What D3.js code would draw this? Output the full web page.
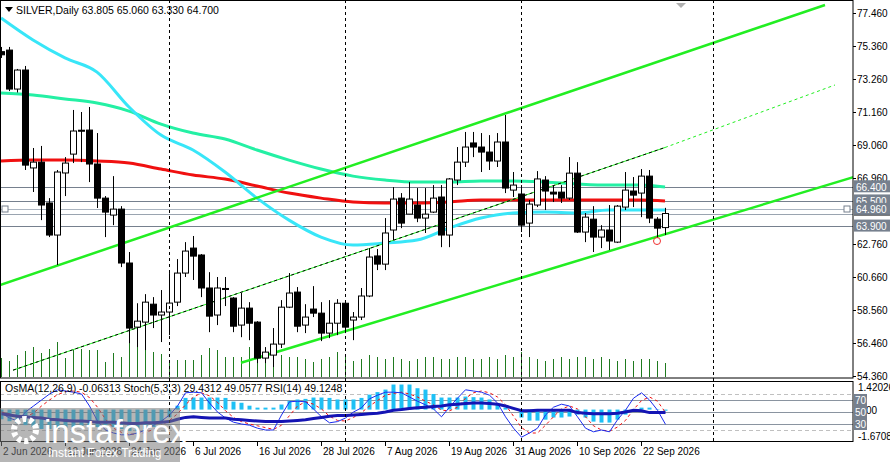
<!DOCTYPE html>
<html><head><meta charset="utf-8">
<script src="https://cdn.jsdelivr.net/npm/d3@7"></script>
<style>body{margin:0;background:#fff}text{font-family:"Liberation Sans",Arial,sans-serif}</style>
</head><body><svg id="c" width="890" height="462"></svg>
<script>
// daily silver candles, 2 Jun .. 23 Sep 2026
let opens  = [75.0,75.1,72.62,73.83,67.6,67.97,65.37,63.33,67.28,68.48,70.0,70.01,67.85,65.68,64.6,64.98,61.55,57.47,57.79,58.93,58.24,58.43,59.06,60.91,62.5,62.06,59.96,58.24,59.93,59.32,57.6,58.68,57.79,55.5,55.69,56.39,58.74,59.7,57.6,58.62,58.36,57.09,57.72,58.99,57.92,58.11,59.45,62.0,61.48,63.65,65.68,64.66,65.24,64.41,64.79,65.75,63.33,66.83,67.97,69.19,68.93,68.61,68.04,69.25,66.19,65.94,64.09,65.24,66.83,66.06,66.06,65.68,67.27,63.52,64.34,63.2,63.65,62.88,65.11,66.13,66.0,67.08,64.34,63.805];
let highs  = [75.3,75.3,73.9,74.09,68.87,69.0,65.68,67.47,68.29,71.29,71.16,71.48,69.82,65.81,67.08,65.17,62.25,58.99,59.57,59.38,59.83,60.91,61.8,62.88,63.27,62.12,60.97,60.66,60.66,59.38,59.64,59.06,57.85,56.2,57.41,59.19,60.91,60.02,58.93,60.08,59.06,59.19,59.25,59.06,58.43,59.96,62.5,62.44,64.41,66.38,66.0,66.7,66.32,66.32,66.51,66.51,66.96,68.93,69.89,69.89,69.82,69.69,69.82,70.97,67.34,66.51,65.56,67.4,67.08,66.51,66.51,68.29,67.97,64.73,65.17,63.96,65.24,65.24,67.34,67.02,67.53,67.47,64.47,65.06];
let lows   = [74.6,72.49,72.4,67.47,66.07,64.28,63.2,61.42,65.81,67.91,67.97,66.7,65.05,63.2,63.96,61.29,56.45,56.2,56.01,57.41,56.52,56.96,58.81,60.66,60.47,59.38,57.15,57.6,58.81,57.15,56.83,56.64,55.18,55.18,54.93,56.14,58.68,57.15,57.09,58.11,56.58,56.77,56.96,57.09,56.64,57.92,59.38,61.1,61.1,63.01,63.77,64.66,64.15,63.46,64.73,62.56,62.56,66.51,67.66,68.29,67.34,67.47,67.66,66.0,65.75,63.52,63.2,65.11,64.92,65.43,65.37,65.56,63.46,62.88,62.25,62.5,62.37,62.82,64.92,65.11,64.47,64.09,63.14,63.33];
let closes = [74.8,72.62,73.83,67.78,67.97,65.24,63.33,67.34,67.91,69.95,69.95,67.85,65.68,64.79,64.98,61.55,57.41,57.85,59.06,58.24,58.43,59.0,60.91,62.31,61.99,59.96,58.17,59.96,59.9,57.53,58.68,57.72,55.5,55.88,56.39,58.74,59.64,57.53,58.11,58.36,57.09,57.72,58.99,57.47,58.11,59.45,61.93,61.48,63.46,65.62,64.09,65.62,64.41,64.66,65.68,63.33,66.9,67.97,68.93,68.93,68.61,68.04,69.25,66.32,66.51,63.96,65.3,66.9,66.13,65.94,65.68,67.27,63.52,64.47,63.2,63.65,62.95,65.17,66.19,65.87,67.08,64.41,63.77,64.7];
let volumes = [19,16,22,26,30,24,28,35,19,27,28,27,27,15,24,20,40,37,32,25,23,15,17,17,17,22,29,27,20,20,20,30,27,22,20,22,20,20,18,15,18,20,25,22,16,18,22,20,18,20,18,16,18,20,20,18,18,20,20,18,18,20,18,22,20,25,20,18,16,18,20,18,20,20,18,20,18,16,18,16,18,18,16,14];

// moving averages, read every 4th bar (last point = bar 83)
let maIdx   = [0,4,8,12,16,20,24,28,32,36,40,44,48,52,56,60,64,68,72,76,80,83];
let maFast  = [77.14,75.74,74.6,73.7,71.48,69.69,68.74,67.34,65.68,64.28,63.2,62.69,62.82,63.01,63.77,64.41,64.73,64.79,64.73,64.92,64.92,64.92];
let maMid   = [72.37,72.24,71.99,71.73,71.22,70.39,69.82,69.44,68.74,68.1,67.53,67.08,66.83,66.7,66.7,66.77,66.77,66.7,66.58,66.51,66.51,66.38];
let maSlow  = [68.04,68.1,68.1,68.04,67.91,67.53,67.15,66.89,66.45,66.0,65.68,65.43,65.37,65.37,65.43,65.56,65.56,65.56,65.56,65.56,65.56,65.49];

// indicator window
let osma   = [-0.5,-0.6,-0.7,-0.8,-0.9,-1.0,-1.0,-1.0,-0.95,-0.9,-0.85,-0.85,-0.9,-0.9,-0.9,-1.0,-1.1,-1.1,-1.0,-0.9,-0.7,-0.4,0.2,0.6,0.62,0.62,0.62,0.62,0.6,0.41,0.35,0.2,0.1,0.1,0.1,0.26,0.45,0.52,0.55,0.62,0.62,0.6,0.52,0.52,0.52,0.6,0.77,0.9,1.03,1.29,1.29,1.29,1.1,1.03,0.8,0.62,0.62,0.62,0.67,0.64,0.62,0.52,0.26,0.1,0.02,-0.41,-0.57,-0.57,-0.52,-0.41,-0.41,-0.36,-0.26,-0.41,-0.62,-0.67,-0.67,-0.52,-0.26,-0.05,0.1,0.1,0.02,-0.06];
let stochK = [48,40,35,50,60,70,80,87,85,83,80,60,35,20,15,12,12,15,20,28,35,45,60,82,83,82,65,50,40,33,30,28,23,20,20,45,67,68,67,55,42,32,34,40,50,57,72,78,83,83,82,75,68,62,55,42,58,73,87,85,83,78,65,42,23,8,15,23,45,58,63,60,42,23,17,20,17,37,53,73,82,70,53,29.43];
let stochD = [50,47,41,42,48,60,70,79,84,85,83,74,58,38,23,16,13,13,16,21,28,36,47,62,75,82,77,66,52,41,34,30,27,24,21,28,44,60,67,63,55,43,36,35,41,49,60,69,78,81,83,80,75,68,62,53,52,58,73,82,85,82,75,62,43,24,15,15,28,42,55,60,55,42,27,20,18,25,36,54,69,75,68,49.06];
let rsi    = [47,45,43,42,41,40,38,37,36,35,35,34,33,33,33,32,31,31,32,32,33,34,38,41,42,41,40,40,40,38,37,36,35,34,34,34,35,36,37,39,41,43,44,44,45,46,47,48,50,53,54,56,57,58,59,60,62,63,64,65,65,64,63,60,56,52,52,53,53,53,53,53,49,48,47,47,47,48,50,53,52,49,49,49.12];

let priceTicks = [77.46,75.36,73.26,71.16,69.06,66.96,62.76,60.66,58.56,56.46,54.36];
let levels = [66.40,65.50,64.96,63.90];
let oscLevels = [80,70,50,30,20];
let dateLabels = [[0,'2 Jun 2026'],[8,'12 Jun 2026'],[16,'24 Jun 2026'],[24,'6 Jul 2026'],[32,'16 Jul 2026'],[40,'28 Jul 2026'],[48,'7 Aug 2026'],[56,'19 Aug 2026'],[64,'31 Aug 2026'],[72,'10 Sep 2026'],[80,'22 Sep 2026']];
let separators = [21,43,65,89];
// channel lines [bar, price] pairs
let upperLine = [[-0.125,60.15],[103,77.97]];
let lowerLine = [[30,55.2],[111.1,67.72]];
let midLine   = [[1.5,54.73],[83,68.9]];
let midLineExt= [[83,68.9],[104.25,72.88]];

let svg = d3.select('#c');
let W = 853;
let x = d3.scaleLinear().domain([0,104]).range([1,833]);
let y = d3.scaleLinear().domain([54.36,77.46]).range([376,13]);
let yo = d3.scaleLinear().domain([0,100]).range([442,382]);
let yh = d3.scaleLinear().domain([-1.6708,1.42026]).range([442,382]);
let bars = d3.range(closes.length);

svg.append('clipPath').attr('id','cm').append('rect').attr('x',0).attr('y',0).attr('width',W).attr('height',378);
svg.append('clipPath').attr('id','ci').append('rect').attr('x',0).attr('y',381).attr('width',W).attr('height',61);
let main = svg.append('g').attr('clip-path','url(#cm)');
let ind = svg.append('g').attr('clip-path','url(#ci)');

// volumes
main.selectAll('.vol').data(bars).join('line')
  .attr('x1',i=>x(i)+0.5).attr('x2',i=>x(i)+0.5)
  .attr('y1',377).attr('y2',i=>377-volumes[i])
  .attr('stroke','#1f7a1f').attr('stroke-width',1);

// horizontal levels
levels.forEach(function(l,k){
  main.append('line').attr('x1',0).attr('x2',W).attr('y1',Math.round(y(l))+0.5).attr('y2',Math.round(y(l))+0.5)
    .attr('stroke', k==2 ? '#aab4c0' : '#76808e').attr('stroke-width',1);
});
main.append('line').attr('x1',0).attr('x2',W).attr('y1',Math.round(y(64.7))+0.5).attr('y2',Math.round(y(64.7))+0.5).attr('stroke','#9aa4b0');
[5,847].forEach(function(sx){
  main.append('rect').attr('x',sx-3).attr('y',Math.round(y(64.96))-3).attr('width',6).attr('height',6).attr('fill','#fff').attr('stroke','#76808e');
});

// separators
separators.forEach(function(s){
  svg.append('line').attr('x1',x(s)+0.5).attr('x2',x(s)+0.5).attr('y1',0).attr('y2',442)
    .attr('stroke','#000').attr('stroke-dasharray','3,3');
});

// MAs
let maLine = arr => d3.line().x((d,k)=>x(maIdx[k])).y(d=>y(d)).curve(d3.curveMonotoneX)(arr);
main.append('path').attr('d',maLine(maSlow)).attr('fill','none').attr('stroke','#f01010').attr('stroke-width',3);
main.append('path').attr('d',maLine(maMid)).attr('fill','none').attr('stroke','#24f0a4').attr('stroke-width',3);
main.append('path').attr('d',maLine(maFast)).attr('fill','none').attr('stroke','#38e6f8').attr('stroke-width',3);

// channel
let seg = p => d3.line().x(d=>x(d[0])).y(d=>y(d[1]))(p);
main.append('path').attr('d',seg(upperLine)).attr('stroke','#22ee22').attr('stroke-width',2.5).attr('fill','none');
main.append('path').attr('d',seg(lowerLine)).attr('stroke','#22ee22').attr('stroke-width',2.5).attr('fill','none');
main.append('path').attr('d',seg(midLine)).attr('stroke','#22ee22').attr('stroke-width',1).attr('fill','none');
main.append('path').attr('d',seg(midLine)).attr('stroke','#000').attr('stroke-width',1).attr('stroke-dasharray','3,3').attr('fill','none');
main.append('path').attr('d',seg(midLineExt)).attr('stroke','#22ee22').attr('stroke-width',1).attr('stroke-dasharray','3,3').attr('fill','none');

// candles
let c = main.selectAll('.cd').data(bars).join('g');
c.append('line').attr('x1',i=>x(i)+0.5).attr('x2',i=>x(i)+0.5)
  .attr('y1',i=>y(highs[i])).attr('y2',i=>y(lows[i])).attr('stroke','#000');
c.append('rect').attr('x',i=>x(i)-2.5).attr('width',6)
  .attr('y',i=>y(Math.max(opens[i],closes[i])))
  .attr('height',i=>Math.max(1,Math.abs(y(opens[i])-y(closes[i]))))
  .attr('fill',i=>closes[i]>=opens[i]?'#fff':'#000').attr('stroke','#000');
main.append('circle').attr('cx',x(82)).attr('cy',y(lows[82])+3).attr('r',3.5).attr('fill','none').attr('stroke','#f03030');

// indicator window
oscLevels.forEach(function(l){
  ind.append('line').attr('x1',0).attr('x2',W).attr('y1',Math.round(yo(l))+0.5).attr('y2',Math.round(yo(l))+0.5)
    .attr('stroke', (l==80||l==20)?'#c0c0c0':'#8a94a0')
    .attr('stroke-dasharray',(l==80||l==20)?'4,3':null);
});
ind.selectAll('.h').data(bars).join('rect')
  .attr('x',i=>x(i)-1.5).attr('width',4)
  .attr('y',i=>Math.min(yh(0),yh(osma[i]))).attr('height',i=>Math.abs(yh(osma[i])-yh(0)))
  .attr('fill','#1ec0f5');
let oline = arr => d3.line().x((d,i)=>x(i)+0.5).y(d=>yo(d))(arr);
ind.append('path').attr('d',oline(stochD)).attr('fill','none').attr('stroke','#f01010').attr('stroke-dasharray','3,3');
ind.append('path').attr('d',oline(stochK)).attr('fill','none').attr('stroke','#1a2cf0');
ind.append('path').attr('d',oline(rsi)).attr('fill','none').attr('stroke','#1414b4').attr('stroke-width',3);
svg.append('text').attr('x',5).attr('y',392).attr('font-size',10.5).attr('fill','#000')
  .text('OsMA(12,26,9) -0.06313  Stoch(5,3,3) 29.4312 49.0577  RSI(14) 49.1248');

// frames
svg.append('rect').attr('x',0.5).attr('y',0.5).attr('width',W-0.5).attr('height',377.5).attr('fill','none').attr('stroke','#000');
svg.append('rect').attr('x',0.5).attr('y',381.5).attr('width',W-0.5).attr('height',60).attr('fill','none').attr('stroke','#000');

// price axis
priceTicks.forEach(function(p){
  svg.append('line').attr('x1',W).attr('x2',W+3).attr('y1',Math.round(y(p))+0.5).attr('y2',Math.round(y(p))+0.5).attr('stroke','#000');
  svg.append('text').attr('x',W+4).attr('y',y(p)+4).attr('font-size',10).text(p.toFixed(3));
});
svg.append('rect').attr('x',W+1).attr('y',y(64.7)-2).attr('width',36).attr('height',4).attr('fill','#000');
levels.forEach(function(l){
  svg.append('rect').attr('x',W+1).attr('y',y(l)-6.5).attr('width',36).attr('height',12).attr('fill','#76808e');
  svg.append('text').attr('x',W+3).attr('y',y(l)+4).attr('font-size',10).attr('fill','#fff').text(l.toFixed(3));
});
svg.append('text').attr('x',W+5).attr('y',391).attr('font-size',10).text('1.42026');
svg.append('text').attr('x',W+13).attr('y',yh(0)+4).attr('font-size',10).text('00');
svg.append('text').attr('x',W+5).attr('y',440).attr('font-size',10).text('-1.6708');
[70,50,30].forEach(function(l){
  svg.append('rect').attr('x',W+1).attr('y',yo(l)-6).attr('width',13).attr('height',12).attr('fill','#76808e');
  svg.append('text').attr('x',W+2).attr('y',yo(l)+4).attr('font-size',10).attr('fill','#fff').text(l);
});

// date axis
dateLabels.forEach(function(d){
  svg.append('line').attr('x1',x(d[0])+0.5).attr('x2',x(d[0])+0.5).attr('y1',442).attr('y2',446).attr('stroke','#000');
  svg.append('text').attr('x',x(d[0])+2).attr('y',455).attr('font-size',10).text(d[1]);
});

// header
svg.append('path').attr('d','M5,7 L13,7 L9,12 Z').attr('fill','#000');
svg.append('text').attr('x',16).attr('y',14).attr('font-size',10.5).text('SILVER,Daily  63.805 65.060 63.330 64.700');
svg.append('path').attr('d','M676,3 L686,3 L681,8 Z').attr('fill','#b0b0b0');

// watermark
let wm = svg.append('g');
wm.append('rect').attr('x',0).attr('y',408).attr('width',180).attr('height',54).attr('fill','#7a7a7a').attr('opacity',0.55);
wm.append('circle').attr('cx',25).attr('cy',430).attr('r',11).attr('fill','none').attr('stroke','#fff').attr('stroke-width',6).attr('stroke-dasharray','4,3');
wm.append('text').attr('x',44).attr('y',443).attr('font-size',33).attr('fill','#fff').attr('font-family','Lato').text('instaforex');
wm.append('text').attr('x',48).attr('y',457).attr('font-size',12).attr('fill','#fff').text('Instant Forex Trading');
</script></body></html>
